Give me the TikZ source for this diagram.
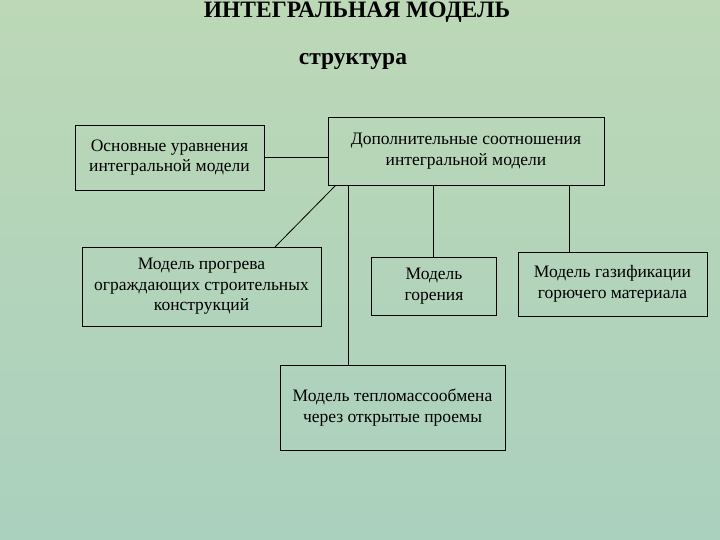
\documentclass[tikz,border=0pt]{standalone}
\usepackage{fontspec}
\setmainfont{Liberation Serif}
\begin{document}
\begin{tikzpicture}[x=1pt,y=-1pt,
  bx/.style={draw=black,line width=0.8pt,align=center,font=\fontsize{17.5}{20.5}\selectfont,inner sep=0pt},
  ln/.style={draw=black,line width=0.8pt}]
\definecolor{bg}{RGB}{188,216,182}
\definecolor{bg2}{RGB}{170,208,190}
\shade[top color=bg, bottom color=bg2] (0,0) rectangle (720,540);
\useasboundingbox (0,0) rectangle (720,540);
\node (t) at (357,12) {\fontsize{23.5}{26}\selectfont\bfseries ИНТЕГРАЛЬНАЯ МОДЕЛЬ};
\node (s) at (353,62) {\fontsize{23.5}{26}\selectfont\bfseries структура};
\node[bx,minimum width=189,minimum height=65] (a) at (169.5,157.5) {Основные уравнения\\интегральной модели};
\node[bx,minimum width=276,minimum height=68] (b) at (466,151) {Дополнительные соотношения\\интегральной модели};
\node[bx,minimum width=239,minimum height=79] (c) at (201.5,286.5) {Модель прогрева\\ограждающих строительных\\конструкций};
\node[bx,minimum width=125,minimum height=58] (d) at (434,286) {Модель\\горения};
\node[bx,minimum width=189,minimum height=64] (e) at (612.5,284) {Модель газификации\\горючего материала};
\node[bx,minimum width=225,minimum height=85] (f) at (392.5,407.5) {Модель тепломассообмена\\через открытые проемы};
\draw[ln] (a.east) -- (a.east -| b.west);
\draw[ln] (b.south west) ++(8,0) coordinate (bd) -- (275,247) coordinate (cd);
\draw[ln] (348,185) coordinate (b1) -- (b1 |- f.north);
\draw[ln] (433,185) coordinate (b2) -- (b2 |- d.north);
\draw[ln] (569,185) coordinate (b3) -- (b3 |- e.north);
\end{tikzpicture}
\end{document}
